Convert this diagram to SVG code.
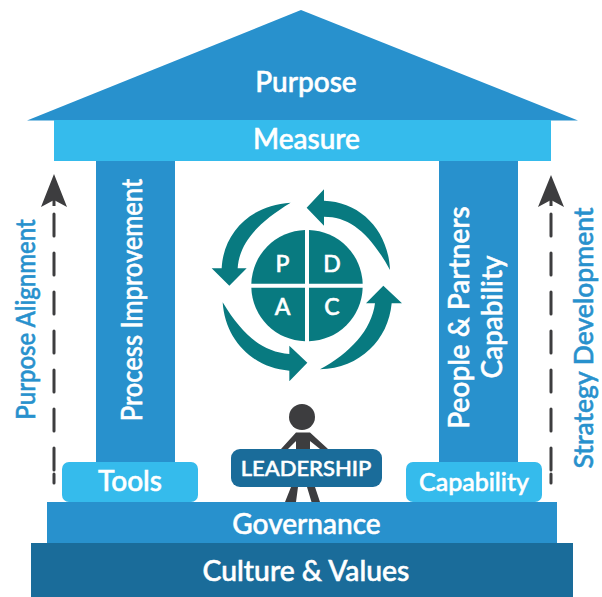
<svg xmlns="http://www.w3.org/2000/svg" width="602" height="597" viewBox="0 0 602 597">
<style>
text{font-family:Lato,"Open Sans",sans-serif;font-weight:500;fill:#fff;stroke:#fff;stroke-width:.55;text-anchor:middle}
.mid{fill:#2891cd}.light{fill:#35bbec}.dark{fill:#1a6c9a}.teal{fill:#087a80}.grey{fill:#3d3d3f}
.dash{fill:none;stroke:#3d3d3f;stroke-width:3;stroke-linecap:round;stroke-dasharray:22 17}
.stem{fill:none;stroke:#3d3d3f;stroke-width:3}
.side{fill:#2891cd;stroke:#2891cd}
.pdca{font-size:23px}
</style>
<rect width="602" height="597" fill="#fff"/>
<g id="roof"><path class="mid" d="M301 10L578 120.500H27Z"/><text x="306" y="92" font-size="28">Purpose</text></g>
<g id="measure"><rect class="light" x="54" y="120" width="497" height="41"/><text x="306.500" y="149" font-size="28">Measure</text></g>
<g id="process-improvement"><rect class="mid" x="96" y="161" width="79" height="301"/><text transform="translate(141.500 300) rotate(-90) scale(.88 1)" font-size="29">Process Improvement</text></g>
<g id="people-capability"><rect class="mid" x="439" y="161" width="79" height="301"/><text transform="translate(469 317.500) rotate(-90) scale(.95 1)" font-size="29.500">People &amp; Partners</text><text transform="translate(502 317) rotate(-90) scale(.95 1)" font-size="29.500">Capability</text></g>
<g id="tools"><rect class="light" x="62" y="462" width="136" height="40" rx="7"/><text x="130" y="491" font-size="28">Tools</text></g>
<g id="capability"><rect class="light" x="406" y="462" width="136" height="40" rx="7"/><text x="474" y="491" font-size="25">Capability</text></g>
<g id="governance"><rect class="mid" x="47" y="502" width="510" height="41"/><text x="306.500" y="533.500" font-size="28">Governance</text></g>
<g id="culture"><rect class="dark" x="31" y="543" width="542" height="54"/><text x="306" y="581" font-size="28.300">Culture &amp; Values</text></g>
<g id="leader">
<circle class="grey" cx="302" cy="417" r="13"/>
<path class="grey" d="M296 432.500H310V449H296ZM296 432.500L281 449H288L296 441ZM310 432.500L328 449H320L310 441ZM291 487H298L296 502H285ZM307 487H315L320 502H311.500Z"/>
<rect class="dark" x="231" y="449" width="151" height="38" rx="9"/>
<text x="306" y="476" font-size="22">LEADERSHIP</text>
</g>
<g id="pdca">
<g transform="translate(200 180) scale(.33333)" class="teal">
<path d="M570 270C565 150 480 65 372 62V28L320 83L372 137V110C450 110 510 160 570 270Z"/>
<path d="M272 68C150 75 70 160 65 265H35L88 317L140 265H113C118 190 170 130 272 68Z"/>
<path d="M68 367C130 470 190 515 268 522V497L322 548L268 604V572C160 565 75 480 68 367Z"/>
<path d="M360 568C450 520 515 450 525 370H498L550 317L606 370H575C565 480 480 565 360 568Z"/>
<path d="M315 150A166 166 0 0 0 154 311H315Z"/>
<path d="M327 150A166 166 0 0 1 488 311H327Z"/>
<path d="M315 484A166 166 0 0 1 154 323H315Z"/>
<path d="M327 484A166 166 0 0 0 488 323H327Z"/>
</g>
<text class="pdca" x="282.500" y="272">P</text><text class="pdca" x="332" y="272">D</text>
<text class="pdca" x="282.500" y="315">A</text><text class="pdca" x="332" y="315">C</text>
</g>
<g id="connectors">
<path class="dash" d="M54 214V471M54 474V483"/><path class="stem" d="M54 198V206"/><path class="grey" d="M54 174L67 207L54 200L41 207Z"/>
<path class="dash" d="M551 214V471M551 474V483"/><path class="stem" d="M551 198V206"/><path class="grey" d="M551 175L564 207L551 200L538 207Z"/>
</g>
<g id="purpose-alignment"><text class="side" font-size="26.500" transform="translate(35 319.500) rotate(-90) scale(.905 1)">Purpose Alignment</text></g>
<g id="strategy-development"><text class="side" font-size="27.500" transform="translate(592.500 338) rotate(-90) scale(.965 1)">Strategy Development</text></g>
</svg>
